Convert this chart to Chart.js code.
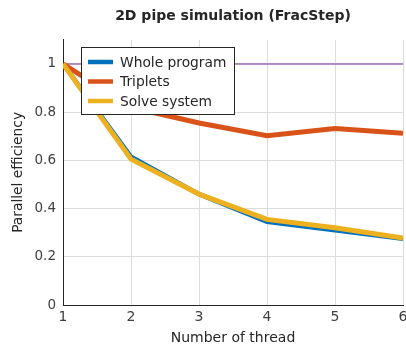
<!DOCTYPE html>
<html>
<head>
<meta charset="utf-8">
<script src="https://cdn.jsdelivr.net/npm/chart.js@4/dist/chart.umd.min.js"></script>
<style>
  html, body { margin: 0; padding: 0; background: #fff; }
  #wrap { width: 406px; height: 347px; }
</style>
</head>
<body>
<div id="wrap"><canvas id="chartEff" width="406" height="347"></canvas></div>
<script>
/* ═══════════════════════════════════════════
   PARALLEL EFFICIENCY CHART
═══════════════════════════════════════════ */

const threads = [1, 2, 3, 4, 5, 6];
const wholeProgram = [1, 0.615, 0.46, 0.345, 0.31, 0.275];
const triplets = [1, 0.82, 0.755, 0.702, 0.732, 0.712];
const solveSystem = [1, 0.605, 0.46, 0.355, 0.32, 0.278];
const ideal = [1, 1, 1, 1, 1, 1];
const yTicks = [0, 0.2, 0.4, 0.6, 0.8, 1];

const FONT = 'DejaVu Sans';
const TEXT = '#404040';

function toPoints(values) {
    return threads.map((t, i) => ({ x: t, y: values[i] }));
}

/**
 * Legend box drawn inside the plot area, upper left
 */
const boxLegend = {
    id: 'boxLegend',
    afterDatasetsDraw(chart) {
        const ctx = chart.ctx;
        const x0 = 81, y0 = 47, w = 153, h = 67;
        ctx.save();
        ctx.fillStyle = '#fff';
        ctx.fillRect(x0, y0, w, h);
        ctx.strokeStyle = '#262626';
        ctx.lineWidth = 1;
        ctx.strokeRect(x0 + 0.5, y0 + 0.5, w, h);
        ctx.font = '13.8px ' + FONT;
        ctx.textBaseline = 'middle';
        const rows = chart.data.datasets.filter(d => d.inLegend);
        rows.forEach((d, i) => {
            const y = y0 + 15 + i * 19.5;
            ctx.strokeStyle = d.borderColor;
            ctx.lineWidth = 4.5;
            ctx.beginPath();
            ctx.moveTo(88, y);
            ctx.lineTo(113, y);
            ctx.stroke();
            ctx.fillStyle = '#262626';
            ctx.fillText(d.label, 120, y + 1);
        });
        ctx.restore();
    }
};

const ctx = document.getElementById('chartEff');

new Chart(ctx, {
    type: 'line',
    data: {
        datasets: [
            {
                label: 'Whole program',
                data: toPoints(wholeProgram),
                borderColor: '#0072BD',
                borderWidth: 4.5,
                order: 3,
                inLegend: true
            },
            {
                label: 'Triplets',
                data: toPoints(triplets),
                borderColor: '#D95319',
                borderWidth: 5,
                order: 2,
                inLegend: true
            },
            {
                label: 'Solve system',
                data: toPoints(solveSystem),
                borderColor: '#EDB120',
                borderWidth: 5,
                order: 1,
                inLegend: true
            },
            {
                label: 'Ideal',
                data: toPoints(ideal),
                borderColor: '#a46ab4',
                borderWidth: 1.5,
                order: 4,
                inLegend: false
            }
        ]
    },
    options: {
        responsive: false,
        animation: false,
        devicePixelRatio: 1,
        layout: { padding: { left: 0, right: 3, top: 0, bottom: 0 } },
        elements: {
            point: { radius: 0 },
            line: { tension: 0, borderCapStyle: 'butt', borderJoinStyle: 'miter', fill: false }
        },
        plugins: {
            legend: { display: false },
            tooltip: { enabled: false },
            title: {
                display: true,
                fullSize: false,
                text: '2D pipe simulation (FracStep)',
                color: '#262626',
                font: { family: FONT, size: 14, weight: 'bold' },
                padding: { top: 8, bottom: 15 }
            }
        },
        scales: {
            x: {
                type: 'linear',
                min: 1,
                max: 6,
                afterFit(scale) {
                    scale.height = 42;
                    scale.paddingLeft = 0;
                    scale.paddingRight = 0;
                },
                ticks: {
                    stepSize: 1,
                    color: TEXT,
                    padding: 4,
                    font: { family: FONT, size: 14 }
                },
                grid: { color: '#dcdcdc', drawTicks: false },
                border: { color: '#262626', width: 1 },
                title: {
                    display: true,
                    text: 'Number of thread',
                    color: '#262626',
                    font: { family: FONT, size: 14 },
                    padding: { top: 1, bottom: 0 }
                }
            },
            y: {
                min: 0,
                max: 1.1,
                afterFit(scale) {
                    scale.width = 63;
                },
                afterBuildTicks(scale) {
                    scale.ticks = yTicks.map(v => ({ value: v }));
                },
                ticks: {
                    color: TEXT,
                    padding: 7,
                    font: { family: FONT, size: 13.5 },
                    callback: v => String(Math.round(v * 10) / 10)
                },
                grid: { color: '#dcdcdc', drawTicks: false },
                border: { color: '#262626', width: 1 },
                title: {
                    display: true,
                    text: 'Parallel efficiency',
                    color: '#262626',
                    font: { family: FONT, size: 13.8 },
                    padding: { top: 10, bottom: 0 }
                }
            }
        }
    },
    plugins: [boxLegend]
});
</script>
</body>
</html>
